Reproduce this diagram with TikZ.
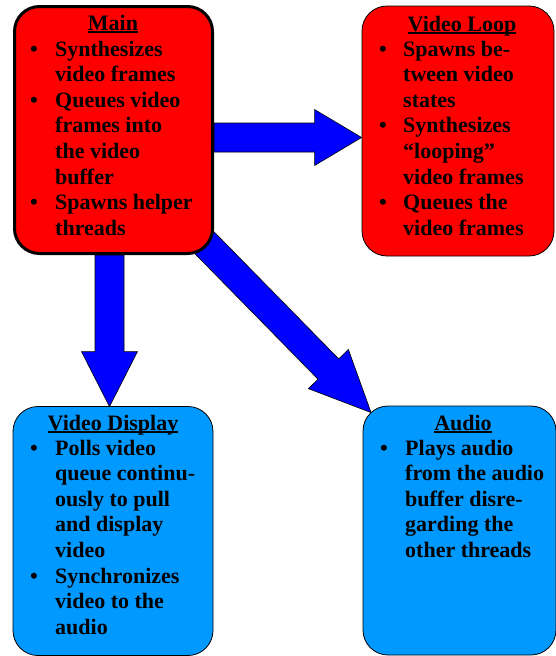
\documentclass[tikz,border=0pt]{standalone}
\usepackage{fontspec}
\setmainfont{Liberation Serif}
\usetikzlibrary{calc}
\pgfdeclarelayer{background}
\pgfsetlayers{background,main}
\definecolor{boxred}{HTML}{FF0000}
\definecolor{boxblue}{HTML}{0099FF}
\definecolor{arrowblue}{HTML}{0000FF}
\newcommand\ttl[1]{\setbox0\hbox{#1}\rlap{\rule[-3pt]{\wd0}{1.6pt}}\box0}
\newcommand\blockarrow[4]{%
  \coordinate (#3) at ($(#2)!#4!(#1)$);
  \draw[arrowbody] ($(#1)!14.5pt!90:(#2)$) -- ($(#3)!14.5pt!90:(#2)$)
    -- ($(#3)!28pt!90:(#2)$) -- (#2) -- ($(#3)!28pt!-90:(#2)$)
    -- ($(#3)!14.5pt!-90:(#2)$) -- ($(#1)!14.5pt!-90:(#2)$) -- cycle;}
\tikzset{
  box/.style={draw=black, rounded corners=25pt, inner sep=0pt, line width=0.8pt},
  arrowbody/.style={fill=arrowblue, draw=black, line width=0.6pt, line join=miter},
  txt/.style={inner sep=0pt, font=\fontsize{22}{25.6}\selectfont\bfseries},
}
\begin{document}
\begin{tikzpicture}[x=1pt,y=-1pt]
\useasboundingbox (0,0) rectangle (555,656);
% boxes
\node[box, fill=boxred, line width=3pt, minimum width=198pt, minimum height=247pt] (main) at (113.5,130) {};
\node[box, fill=boxred, minimum width=192pt, minimum height=250pt] (loop) at (458,131) {};
\node[box, fill=boxblue, minimum width=200pt, minimum height=249pt] (display) at (113,531) {};
\node[box, fill=boxblue, minimum width=193pt, minimum height=249pt] (audio) at (459.5,530.5) {};
% arrows
\coordinate (rs) at ($(main.east)+(0,7.5)$);
\coordinate (rt) at ($(loop.west)+(0,6.5)$);
\coordinate (ds) at ($(main.south)+(-4,0)$);
\coordinate (dt) at ($(display.north)+(-3.5,0.5)$);
\coordinate (gs) at ($(main.south east)+(-24,-27)$);
\coordinate (gt) at ($(audio.north west)+(8.5,7)$);
\begin{pgfonlayer}{background}
\blockarrow{rs}{rt}{rh}{47pt}
\blockarrow{ds}{dt}{dh}{55pt}
\blockarrow{gs}{gt}{gh}{61pt}
\end{pgfonlayer}
% titles
\node[txt, anchor=base] (maint) at (113,30) {\ttl{Main}};
\node[txt, anchor=base] (loopt) at (462,31) {\ttl{Video Loop}};
\node[txt, anchor=base] (dispt) at (113,430) {\ttl{Video Display}};
\node[txt, anchor=base] (audt) at (463,430) {\ttl{Audio}};
% bullet texts
\node[txt, anchor=base west] (mainx) at (30,56) {\begin{tabular}[t]{@{}p{25pt}@{}l@{}}
\textbullet & Synthesizes\\ & video frames\\
\textbullet & Queues video\\ & frames into\\ & the video\\ & buffer\\
\textbullet & Spawns helper\\ & threads\end{tabular}};
\node[txt, anchor=base west] (loopx) at (379,56) {\begin{tabular}[t]{@{}p{24pt}@{}l@{}}
\textbullet & Spawns be-\\ & tween video\\ & states\\
\textbullet & Synthesizes\\ & “looping”\\ & video frames\\
\textbullet & Queues the\\ & video frames\end{tabular}};
\node[txt, anchor=base west] (dispx) at (30,455) {\begin{tabular}[t]{@{}p{25pt}@{}l@{}}
\textbullet & Polls video\\ & queue continu-\\ & ously to pull\\ & and display\\ & video\\
\textbullet & Synchronizes\\ & video to the\\ & audio\end{tabular}};
\node[txt, anchor=base west] (audx) at (380,455) {\begin{tabular}[t]{@{}p{25pt}@{}l@{}}
\textbullet & Plays audio\\ & from the audio\\ & buffer disre-\\ & garding the\\ & other threads\end{tabular}};
\end{tikzpicture}
\end{document}
